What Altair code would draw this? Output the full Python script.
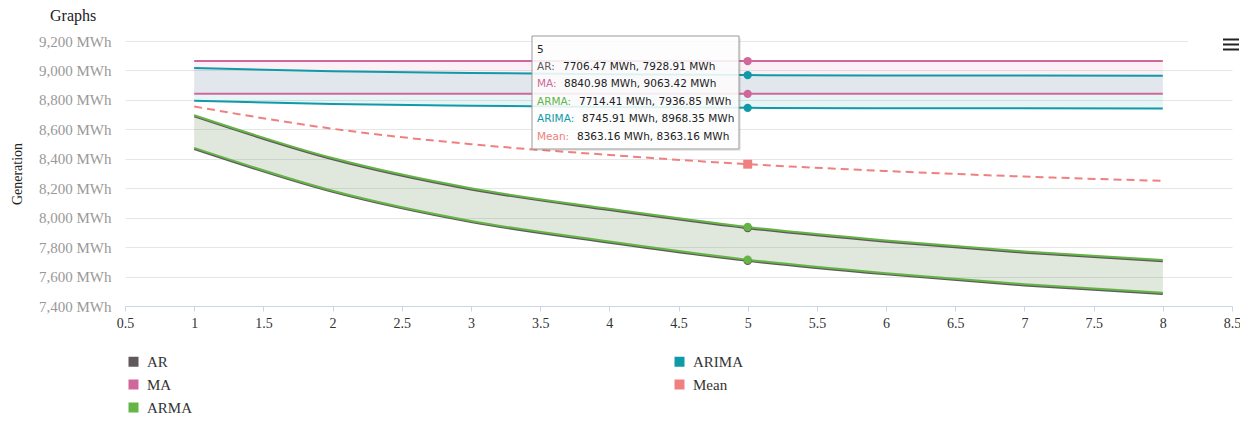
import altair as alt
import pandas as pd

# ---------------- data ----------------
x_vals = [1, 2, 3, 4, 5, 6, 7, 8]

ar_lo = [8466, 8175, 7970, 7830, 7706.47, 7615, 7540, 7482]
ar_hi = [8688, 8397, 8192, 8052, 7928.91, 7837, 7762, 7704]

ma_lo = [8840.98, 8840.98, 8840.98, 8840.98, 8840.98, 8840.98, 8840.98, 8840.98]
ma_hi = [9063.42, 9063.42, 9063.42, 9063.42, 9063.42, 9063.42, 9063.42, 9063.42]

arma_lo = [8474, 8183, 7978, 7838, 7714.41, 7623, 7548, 7490]
arma_hi = [8696, 8405, 8200, 8060, 7936.85, 7845, 7770, 7712]

arima_lo = [8793.6, 8772.6, 8760.6, 8751.6, 8745.91, 8743.6, 8742.6, 8741.6]
arima_hi = [9016, 8995, 8983, 8974, 8968.35, 8966, 8965, 8964]

mean_vals = [8755, 8604, 8499, 8426, 8363.16, 8317, 8279, 8250]

series_names = ["AR", "MA", "ARMA", "ARIMA", "Mean"]
series_colors = {
    "AR": "#5f585c",
    "MA": "#d0679a",
    "ARMA": "#64b446",
    "ARIMA": "#0f9aa8",
    "Mean": "#f08080",
}

y_ticks = [7400, 7600, 7800, 8000, 8200, 8400, 8600, 8800, 9000, 9200]
x_ticks = [0.5, 1, 1.5, 2, 2.5, 3, 3.5, 4, 4.5, 5, 5.5, 6, 6.5, 7, 7.5, 8, 8.5]

hover_x = 5
hover_index = x_vals.index(hover_x)

# ---------------- tables ----------------
ranges = {
    "AR": (ar_lo, ar_hi),
    "MA": (ma_lo, ma_hi),
    "ARMA": (arma_lo, arma_hi),
    "ARIMA": (arima_lo, arima_hi),
    "Mean": (mean_vals, mean_vals),
}
rows = []
for s in series_names:
    lo, hi = ranges[s]
    for xv, l, h in zip(x_vals, lo, hi):
        rows.append({"series": s, "x": xv, "lo": l, "hi": h})
df = pd.DataFrame(rows)

FONT_SERIF = "Liberation Serif"
FONT_TIP = "DejaVu Sans"

W, H = 1107, 265

xscale = alt.Scale(domain=[0.5, 8.5], nice=False, zero=False)
yscale = alt.Scale(domain=[7400, 9200], nice=False, zero=False)

x_axis = alt.Axis(
    values=x_ticks,
    format="~g",
    title=None,
    grid=False,
    domainColor="#ccd6eb",
    tickColor="#ccd6eb",
    tickSize=5,
    labelFont=FONT_SERIF,
    labelFontSize=14,
    labelColor="#333333",
    labelPadding=5,
    labelFlush=False,
    labelOverlap=False,
)

y_axis = alt.Axis(
    values=y_ticks,
    tickCount=10,
    labelExpr="format(datum.value, ',') + ' MWh'",
    labelOverlap=False,
    title="Generation",
    titleFont=FONT_SERIF,
    titleFontSize=14,
    titleFontWeight="normal",
    titleColor="#222222",
    titleX=-108,
    titleY=H / 2,
    titleAngle=270,
    titleAlign="center",
    titleBaseline="middle",
    grid=True,
    gridColor="#e6e6e6",
    domain=False,
    ticks=False,
    labelFont=FONT_SERIF,
    labelFontSize=15,
    labelColor="#999999",
    labelPadding=14,
)


def X():
    return alt.X("x:Q", scale=xscale, axis=x_axis)


def Y(field):
    return alt.Y(f"{field}:Q", scale=yscale, axis=y_axis)


base = alt.Chart(df)

# fills (legend comes from this layer)
fills = base.transform_filter(alt.datum.series != "Mean").mark_area(
    opacity=0.1, interpolate="monotone"
).encode(
    x=X(),
    y=Y("lo"),
    y2="hi:Q",
    color=alt.Color(
        "series:N",
        scale=alt.Scale(domain=series_names, range=[series_colors[s] for s in series_names]),
        legend=alt.Legend(
            title=None,
            orient="none",
            legendX=1,
            legendY=313,
            columns=2,
            columnPadding=479,
            rowPadding=7,
            symbolType="square",
            symbolSize=100,
            symbolOpacity=1,
            symbolStrokeWidth=0,
            labelFont=FONT_SERIF,
            labelFontSize=15,
            labelColor="#333333",
            labelOffset=6,
        ),
    ),
)

layers = [fills]

# boundary lines, drawn series by series
for s in ["AR", "MA", "ARMA", "ARIMA"]:
    sub = base.transform_filter(alt.datum.series == s)
    for fld in ["lo", "hi"]:
        layers.append(
            sub.mark_line(color=series_colors[s], strokeWidth=2, interpolate="monotone").encode(
                x=X(), y=Y(fld)
            )
        )

layers.append(
    base.transform_filter(alt.datum.series == "Mean")
    .mark_line(color=series_colors["Mean"], strokeWidth=2, strokeDash=[8, 5], interpolate="monotone")
    .encode(x=X(), y=Y("lo"))
)

# hover markers
hov = base.transform_filter(alt.datum.x == hover_x)
for s in ["AR", "MA", "ARMA", "ARIMA"]:
    for fld in ["lo", "hi"]:
        layers.append(
            hov.transform_filter(alt.datum.series == s)
            .mark_point(shape="circle", filled=True, size=70, opacity=1, color=series_colors[s])
            .encode(x=X(), y=Y(fld))
        )
layers.append(
    hov.transform_filter(alt.datum.series == "Mean")
    .mark_point(shape="square", filled=True, size=80, opacity=1, color=series_colors["Mean"])
    .encode(x=X(), y=Y("lo"))
)

# ---------------- tooltip box ----------------
tip_left, tip_right, tip_top, tip_bottom = 407, 614, -5, 108
layers.append(
    alt.Chart(pd.DataFrame({"k": [0]}))
    .mark_rect(fill="#000000", opacity=0.08)
    .encode(x=alt.value(tip_left + 2), x2=alt.value(tip_right + 2),
            y=alt.value(tip_top + 2), y2=alt.value(tip_bottom + 2))
)
layers.append(
    alt.Chart(pd.DataFrame({"k": [0]}))
    .mark_rect(fill="#ffffff", fillOpacity=0.88, stroke="#999999", strokeWidth=1)
    .encode(x=alt.value(tip_left), x2=alt.value(tip_right),
            y=alt.value(tip_top), y2=alt.value(tip_bottom))
)
layers.append(
    alt.Chart(pd.DataFrame({"t": [str(hover_x)]}))
    .mark_text(font=FONT_TIP, fontSize=10.5, color="#222222", align="left", baseline="middle")
    .encode(x=alt.value(412), y=alt.value(9), text="t:N")
)
tip_rows_y = [25.5, 43.3, 60.8, 78.3, 95.8]
tip_value_x = [438, 439, 454, 457, 452]
for i, s in enumerate(series_names):
    lo, hi = ranges[s]
    name_txt = f"{s}:"
    val_txt = f"{lo[hover_index]:.2f} MWh, {hi[hover_index]:.2f} MWh"
    layers.append(
        alt.Chart(pd.DataFrame({"t": [name_txt]}))
        .mark_text(font=FONT_TIP, fontSize=10.5, color=series_colors[s], align="left", baseline="middle")
        .encode(x=alt.value(412), y=alt.value(tip_rows_y[i]), text="t:N")
    )
    layers.append(
        alt.Chart(pd.DataFrame({"t": [val_txt]}))
        .mark_text(font=FONT_TIP, fontSize=10.5, color="#222222", align="left", baseline="middle")
        .encode(x=alt.value(tip_value_x[i]), y=alt.value(tip_rows_y[i]), text="t:N")
    )

# ---------------- title and menu icon ----------------
layers.append(
    alt.Chart(pd.DataFrame({"t": ["Graphs"]}))
    .mark_text(font=FONT_SERIF, fontSize=16, color="#222222", align="left", baseline="top")
    .encode(x=alt.value(-75), y=alt.value(-33), text="t:N")
)
# the top gridline stops short of the menu button
layers.append(
    alt.Chart(pd.DataFrame({"k": [0]}))
    .mark_rect(fill="#ffffff")
    .encode(x=alt.value(1063), x2=alt.value(1108), y=alt.value(-1.5), y2=alt.value(1.5))
)
for yy in [-1.5, 3.5, 8.5]:
    layers.append(
        alt.Chart(pd.DataFrame({"k": [0]}))
        .mark_rule(color="#222222", strokeWidth=2)
        .encode(x=alt.value(1098), x2=alt.value(1114), y=alt.value(yy))
    )

chart = (
    alt.layer(*layers)
    .properties(
        width=W,
        height=H,
        autosize=alt.AutoSizeParams(type="none"),
        padding={"left": 117, "top": 33, "right": 8, "bottom": 109},
    )
    .configure_view(stroke=None)
)

chart.save("out.html", embed_options={"renderer": "svg", "actions": False})
